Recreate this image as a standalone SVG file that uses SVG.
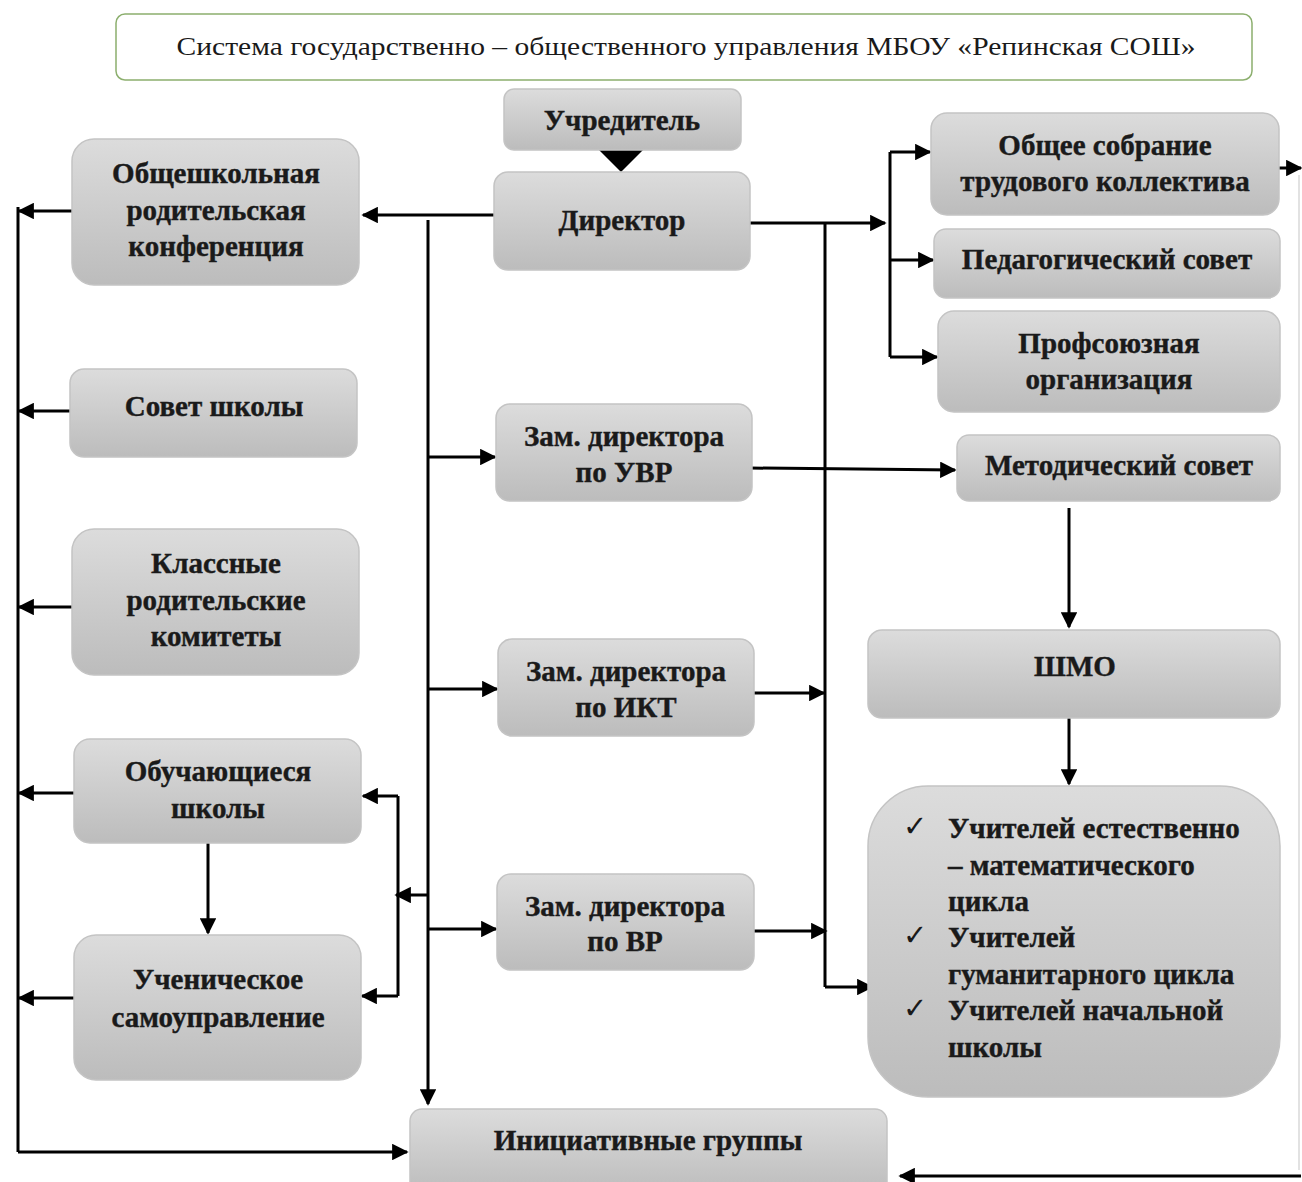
<svg xmlns="http://www.w3.org/2000/svg" width="1302" height="1182" viewBox="0 0 1302 1182">
<defs>
<linearGradient id="g" x1="0" y1="0" x2="0" y2="1">
<stop offset="0" stop-color="#dcdcdc"/>
<stop offset="1" stop-color="#bcbcbc"/>
</linearGradient>
<marker id="a" viewBox="0 0 10 10" refX="9" refY="5" markerWidth="5.5" markerHeight="5.5" orient="auto" markerUnits="strokeWidth">
<path d="M0,0 L10,5 L0,10 z" fill="#000"/>
</marker>
<style>
.n{fill:url(#g);stroke:#c4c4c4;stroke-width:1.5}
.t{font-family:"Liberation Serif","Times New Roman",serif;font-weight:bold;font-size:29px;fill:#1a1a1a;stroke:#1a1a1a;stroke-width:0.4;text-anchor:middle}
.l{font-family:"Liberation Serif","Times New Roman",serif;font-weight:bold;font-size:29px;fill:#1a1a1a;stroke:#1a1a1a;stroke-width:0.4}
.c{stroke:#000;stroke-width:3;fill:none}
.ar{stroke:#000;stroke-width:3;fill:none;marker-end:url(#a)}
</style>
</defs>
<rect width="1302" height="1182" fill="#fff"/>
<g id="title">
<rect x="116" y="14" width="1136" height="66" rx="9" fill="#fff" stroke="#8caf6e" stroke-width="1.5"/>
<text x="686" y="55" font-family="Liberation Serif, serif" font-size="25" fill="#1a1a1a" text-anchor="middle" textLength="1019" lengthAdjust="spacingAndGlyphs">Система государственно – общественного управления МБОУ «Репинская СОШ»</text>
</g>
<g id="connectors">
<path d="M621,150 L599,150 L621,172 L643,150 Z" fill="#000"/>
<path class="ar" d="M494,215 L363,215"/>
<path class="c" d="M428,220 L428,1102"/>
<path class="ar" d="M428,1090 L428,1104"/>
<path class="ar" d="M428,457 L495,457"/>
<path class="ar" d="M428,689 L497,689"/>
<path class="ar" d="M428,929 L496,929"/>
<path class="ar" d="M428,895 L396,895"/>
<path class="c" d="M398,796 L398,996"/>
<path class="ar" d="M398,796 L363,796"/>
<path class="ar" d="M398,996 L362,996"/>
<path class="ar" d="M208,843 L208,933"/>
<path class="c" d="M18,207 L18,1152"/>
<path class="ar" d="M72,211 L19,211"/>
<path class="ar" d="M70,411 L19,411"/>
<path class="ar" d="M72,607 L19,607"/>
<path class="ar" d="M74,793 L19,793"/>
<path class="ar" d="M74,998 L19,998"/>
<path class="ar" d="M18,1152 L407,1152"/>
<path class="ar" d="M750,223 L885,223"/>
<path class="c" d="M825,223 L825,987"/>
<path class="ar" d="M825,987 L872,987"/>
<path class="ar" d="M754,693 L824,693"/>
<path class="ar" d="M754,931 L826,931"/>
<path class="c" d="M890,152 L890,357"/>
<path class="ar" d="M890,152 L930,152"/>
<path class="ar" d="M890,260 L933,260"/>
<path class="ar" d="M890,357 L937,357"/>
<path class="ar" d="M750,468 L955,470"/>
<path class="ar" d="M1069,508 L1069,627"/>
<path class="ar" d="M1069,718 L1069,784"/>
<path class="ar" d="M1279,168 L1301,168"/>
<path d="M1299,175 L1299,1170" stroke="#d8d8d8" stroke-width="1.5"/>
<path class="ar" d="M1301,1176 L900,1176"/>
</g>
<g id="n-uchreditel"><rect class="n" x="504" y="89" width="237" height="61" rx="10"/><text class="t" x="622" y="130">Учредитель</text></g>
<g id="n-director"><rect class="n" x="494" y="172" width="256" height="98" rx="14"/><text class="t" x="622" y="230">Директор</text></g>
<g id="n-konf"><rect class="n" x="72" y="139" width="287" height="146" rx="22"/><text class="t" x="216" y="183">Общешкольная</text><text class="t" x="216" y="220">родительская</text><text class="t" x="216" y="256">конференция</text></g>
<g id="n-sovet"><rect class="n" x="70" y="369" width="287" height="88" rx="14"/><text class="t" x="214" y="416">Совет школы</text></g>
<g id="n-komitety"><rect class="n" x="72" y="529" width="287" height="146" rx="22"/><text class="t" x="216" y="573">Классные</text><text class="t" x="216" y="610">родительские</text><text class="t" x="216" y="646">комитеты</text></g>
<g id="n-obuch"><rect class="n" x="74" y="739" width="287" height="104" rx="16"/><text class="t" x="218" y="781">Обучающиеся</text><text class="t" x="218" y="818">школы</text></g>
<g id="n-samoupr"><rect class="n" x="74" y="935" width="287" height="145" rx="22"/><text class="t" x="218" y="989">Ученическое</text><text class="t" x="218" y="1027">самоуправление</text></g>
<g id="n-initsiat"><rect class="n" x="410" y="1109" width="477" height="85" rx="12"/><text class="t" x="648" y="1150">Инициативные группы</text></g>
<g id="n-sobranie"><rect class="n" x="931" y="113" width="348" height="102" rx="16"/><text class="t" x="1105" y="155">Общее собрание</text><text class="t" x="1105" y="191">трудового коллектива</text></g>
<g id="n-pedsovet"><rect class="n" x="934" y="229" width="346" height="69" rx="12"/><text class="t" x="1107" y="269">Педагогический совет</text></g>
<g id="n-profsoyuz"><rect class="n" x="938" y="311" width="342" height="101" rx="16"/><text class="t" x="1109" y="353">Профсоюзная</text><text class="t" x="1109" y="389">организация</text></g>
<g id="n-uvr"><rect class="n" x="496" y="404" width="256" height="97" rx="14"/><text class="t" x="624" y="446">Зам. директора</text><text class="t" x="624" y="482">по УВР</text></g>
<g id="n-metod"><rect class="n" x="957" y="435" width="323" height="66" rx="12"/><text class="t" x="1119" y="475">Методический совет</text></g>
<g id="n-ikt"><rect class="n" x="498" y="639" width="256" height="97" rx="14"/><text class="t" x="626" y="681">Зам. директора</text><text class="t" x="626" y="717">по ИКТ</text></g>
<g id="n-shmo"><rect class="n" x="868" y="630" width="412" height="88" rx="14"/><text class="t" x="1075" y="676">ШМО</text></g>
<g id="n-vr"><rect class="n" x="497" y="874" width="257" height="96" rx="14"/><text class="t" x="625" y="916">Зам. директора</text><text class="t" x="625" y="951">по ВР</text></g>
<g id="n-uchitelya"><rect class="n" x="868" y="786" width="412" height="311" rx="60"/>
<g font-family="DejaVu Sans, sans-serif" font-size="29" fill="#1a1a1a"><text x="903" y="836">✓</text><text x="903" y="945">✓</text><text x="903" y="1018">✓</text></g>
<text class="l" x="948" y="838">Учителей естественно</text><text class="l" x="948" y="875">– математического</text><text class="l" x="948" y="911">цикла</text><text class="l" x="948" y="947">Учителей</text><text class="l" x="948" y="984">гуманитарного цикла</text><text class="l" x="948" y="1020">Учителей начальной</text><text class="l" x="948" y="1057">школы</text></g>
</svg>
